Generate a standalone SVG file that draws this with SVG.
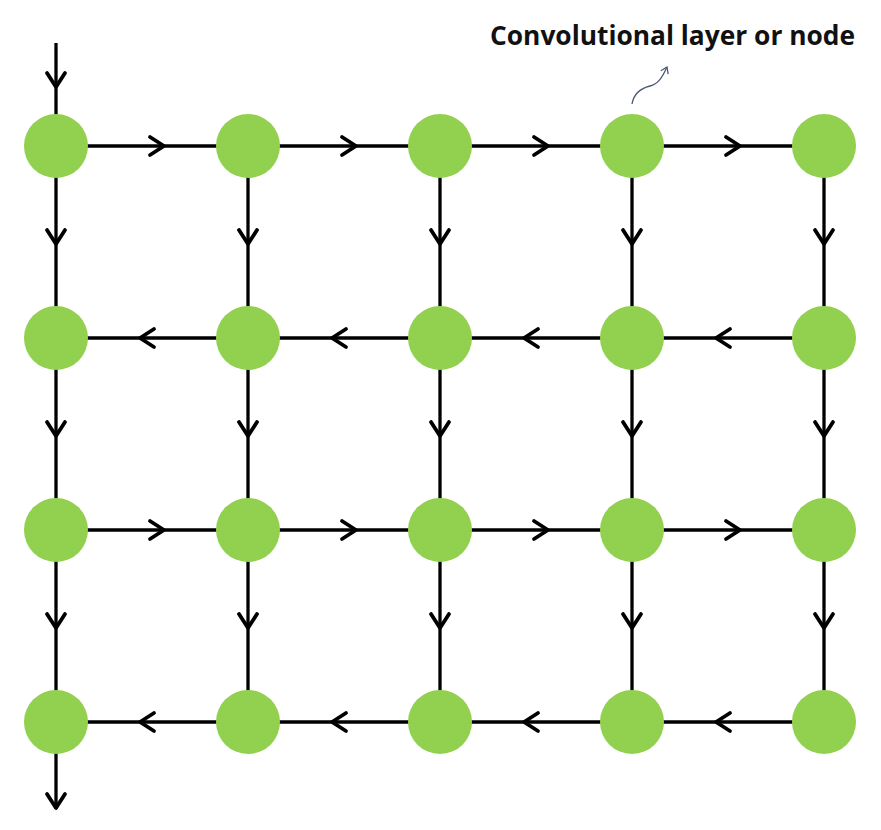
<svg xmlns="http://www.w3.org/2000/svg" width="881" height="830" viewBox="0 0 881 830">
<style>
.c{stroke:#000;stroke-width:3.3;fill:none}
.n{fill:#92d050}
.t{font-family:"Open Sans","Liberation Sans",sans-serif;font-weight:bold;font-size:26px;fill:#111}
</style>
<defs>
<marker id="ch" markerUnits="userSpaceOnUse" markerWidth="30" markerHeight="30" viewBox="-20 -15 30 30" refX="0" refY="0" orient="auto">
<path d="M-14,-9 L0,0 L-14,9" fill="none" stroke="#000" stroke-width="3.8" stroke-linejoin="round" stroke-linecap="round"/>
</marker>
<marker id="sm" markerUnits="userSpaceOnUse" markerWidth="12" markerHeight="12" viewBox="-8 -6 12 12" refX="0" refY="0" orient="auto">
<path d="M-6,-4 L0,0 L-6,4" fill="none" stroke="#4a5a78" stroke-width="1.3"/>
</marker>
</defs>
<g id="connectors">
<path class="c" d="M56,43 L56,87 L56,146" marker-mid="url(#ch)"/>
<path class="c" d="M56,722 L56,808" marker-end="url(#ch)"/>
<path class="c" d="M56,146 L164,146 L248,146" marker-mid="url(#ch)"/>
<path class="c" d="M248,146 L356,146 L440,146" marker-mid="url(#ch)"/>
<path class="c" d="M440,146 L548,146 L632,146" marker-mid="url(#ch)"/>
<path class="c" d="M632,146 L740,146 L824,146" marker-mid="url(#ch)"/>
<path class="c" d="M248,338 L140,338 L56,338" marker-mid="url(#ch)"/>
<path class="c" d="M440,338 L332,338 L248,338" marker-mid="url(#ch)"/>
<path class="c" d="M632,338 L524,338 L440,338" marker-mid="url(#ch)"/>
<path class="c" d="M824,338 L716,338 L632,338" marker-mid="url(#ch)"/>
<path class="c" d="M56,530 L164,530 L248,530" marker-mid="url(#ch)"/>
<path class="c" d="M248,530 L356,530 L440,530" marker-mid="url(#ch)"/>
<path class="c" d="M440,530 L548,530 L632,530" marker-mid="url(#ch)"/>
<path class="c" d="M632,530 L740,530 L824,530" marker-mid="url(#ch)"/>
<path class="c" d="M248,722 L140,722 L56,722" marker-mid="url(#ch)"/>
<path class="c" d="M440,722 L332,722 L248,722" marker-mid="url(#ch)"/>
<path class="c" d="M632,722 L524,722 L440,722" marker-mid="url(#ch)"/>
<path class="c" d="M824,722 L716,722 L632,722" marker-mid="url(#ch)"/>
<path class="c" d="M56,146 L56,244 L56,338" marker-mid="url(#ch)"/>
<path class="c" d="M248,146 L248,244 L248,338" marker-mid="url(#ch)"/>
<path class="c" d="M440,146 L440,244 L440,338" marker-mid="url(#ch)"/>
<path class="c" d="M632,146 L632,244 L632,338" marker-mid="url(#ch)"/>
<path class="c" d="M824,146 L824,244 L824,338" marker-mid="url(#ch)"/>
<path class="c" d="M56,338 L56,436 L56,530" marker-mid="url(#ch)"/>
<path class="c" d="M248,338 L248,436 L248,530" marker-mid="url(#ch)"/>
<path class="c" d="M440,338 L440,436 L440,530" marker-mid="url(#ch)"/>
<path class="c" d="M632,338 L632,436 L632,530" marker-mid="url(#ch)"/>
<path class="c" d="M824,338 L824,436 L824,530" marker-mid="url(#ch)"/>
<path class="c" d="M56,530 L56,628 L56,722" marker-mid="url(#ch)"/>
<path class="c" d="M248,530 L248,628 L248,722" marker-mid="url(#ch)"/>
<path class="c" d="M440,530 L440,628 L440,722" marker-mid="url(#ch)"/>
<path class="c" d="M632,530 L632,628 L632,722" marker-mid="url(#ch)"/>
<path class="c" d="M824,530 L824,628 L824,722" marker-mid="url(#ch)"/>
<path d="M632,104 C634,92 642,88 650,86 C658,84 662,78 667,67" fill="none" stroke="#4a5a78" stroke-width="1.3" marker-end="url(#sm)"/>
</g>
<g id="n00"><circle class="n" cx="56" cy="146" r="32"/></g>
<g id="n01"><circle class="n" cx="248" cy="146" r="32"/></g>
<g id="n02"><circle class="n" cx="440" cy="146" r="32"/></g>
<g id="n03"><circle class="n" cx="632" cy="146" r="32"/></g>
<g id="n04"><circle class="n" cx="824" cy="146" r="32"/></g>
<g id="n10"><circle class="n" cx="56" cy="338" r="32"/></g>
<g id="n11"><circle class="n" cx="248" cy="338" r="32"/></g>
<g id="n12"><circle class="n" cx="440" cy="338" r="32"/></g>
<g id="n13"><circle class="n" cx="632" cy="338" r="32"/></g>
<g id="n14"><circle class="n" cx="824" cy="338" r="32"/></g>
<g id="n20"><circle class="n" cx="56" cy="530" r="32"/></g>
<g id="n21"><circle class="n" cx="248" cy="530" r="32"/></g>
<g id="n22"><circle class="n" cx="440" cy="530" r="32"/></g>
<g id="n23"><circle class="n" cx="632" cy="530" r="32"/></g>
<g id="n24"><circle class="n" cx="824" cy="530" r="32"/></g>
<g id="n30"><circle class="n" cx="56" cy="722" r="32"/></g>
<g id="n31"><circle class="n" cx="248" cy="722" r="32"/></g>
<g id="n32"><circle class="n" cx="440" cy="722" r="32"/></g>
<g id="n33"><circle class="n" cx="632" cy="722" r="32"/></g>
<g id="n34"><circle class="n" cx="824" cy="722" r="32"/></g>
<g id="label"><text class="t" x="490" y="45" textLength="365" lengthAdjust="spacingAndGlyphs">Convolutional layer or node</text></g>
</svg>
